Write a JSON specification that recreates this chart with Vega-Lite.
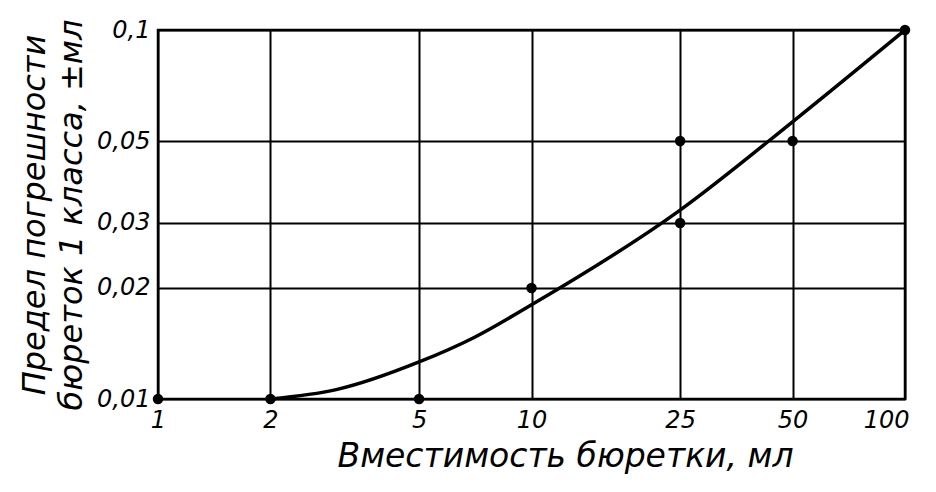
{
  "$schema": "https://vega.github.io/schema/vega-lite/v6.json",
  "width": 747,
  "height": 369,
  "autosize": "none",
  "padding": {"left": 158, "top": 30, "right": 31, "bottom": 93},
  "background": "white",
  "config": {
    "view": {"stroke": "black", "strokeWidth": 2.5},
    "font": "DejaVu Sans",
    "axis": {
      "labelFont": "DejaVu Sans",
      "titleFont": "DejaVu Sans",
      "labelFontStyle": "italic",
      "titleFontStyle": "italic",
      "titleFontWeight": "normal",
      "labelColor": "black",
      "titleColor": "black",
      "gridColor": "black",
      "gridWidth": 2,
      "gridOpacity": 1,
      "ticks": false,
      "domain": false
    }
  },
  "datasets": {
    "curve": [
      {"v": 2, "e": 0.01},
      {"v": 3, "e": 0.0106},
      {"v": 5, "e": 0.0126},
      {"v": 7, "e": 0.01466},
      {"v": 10, "e": 0.018},
      {"v": 25, "e": 0.0325},
      {"v": 50, "e": 0.0564},
      {"v": 100, "e": 0.1}
    ],
    "points": [
      {"v": 1, "e": 0.01},
      {"v": 2, "e": 0.01},
      {"v": 5, "e": 0.01},
      {"v": 10, "e": 0.02},
      {"v": 25, "e": 0.05},
      {"v": 25, "e": 0.03},
      {"v": 50, "e": 0.05},
      {"v": 100, "e": 0.1}
    ]
  },
  "encoding": {
    "x": {
      "field": "v",
      "type": "quantitative",
      "scale": {"type": "log", "domain": [1, 100], "nice": false},
      "axis": {
        "values": [1, 2, 5, 10, 25, 50, 100],
        "format": "d",
        "labelFontSize": 24,
        "labelPadding": 9,
        "labelFlush": false,
        "labelAlign": {"expr": "datum.value == 100 ? 'right' : 'center'"},
        "labelOffset": {"expr": "datum.value == 100 ? 4 : 0"},
        "title": "Вместимость  бюретки, мл",
        "titleFontSize": 33,
        "titleX": 407,
        "titleAnchor": "middle",
        "titlePadding": 8
      }
    },
    "y": {
      "field": "e",
      "type": "quantitative",
      "scale": {"type": "log", "domain": [0.01, 0.1], "nice": false},
      "axis": {
        "values": [0.01, 0.02, 0.03, 0.05, 0.1],
        "labelExpr": "replace(toString(datum.value), '.', ',')",
        "labelFontSize": 24,
        "labelPadding": 8,
        "labelFlush": false,
        "title": ["Предел погрешности", "бюреток 1 класса, ±мл"],
        "titleFontSize": 32,
        "titleLineHeight": 37,
        "titlePadding": 8
      }
    }
  },
  "layer": [
    {
      "data": {"name": "curve"},
      "mark": {"type": "line", "color": "black", "strokeWidth": 3.5, "interpolate": "monotone"}
    },
    {
      "data": {"name": "points"},
      "mark": {"type": "point", "filled": true, "color": "black", "opacity": 1, "size": 110, "clip": false}
    }
  ]
}
